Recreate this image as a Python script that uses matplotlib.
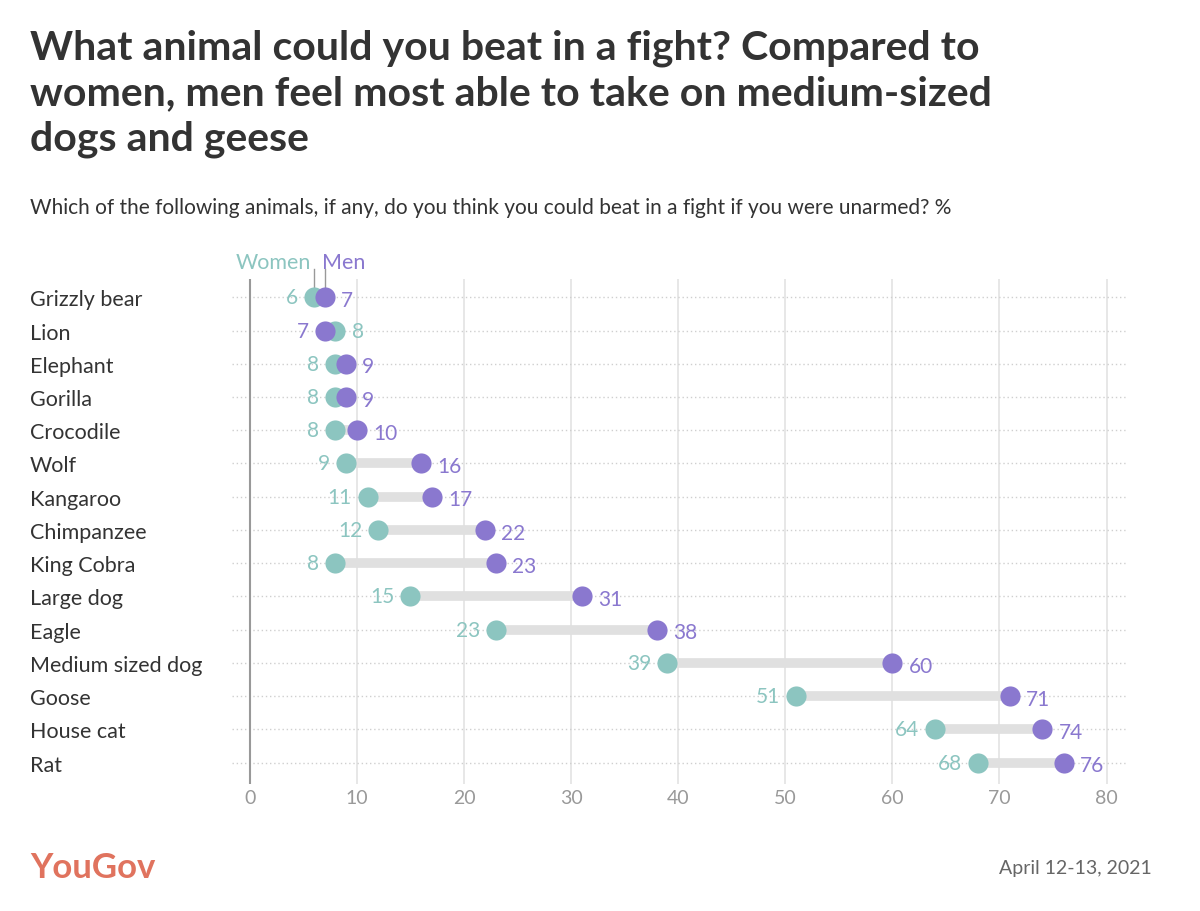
import matplotlib
matplotlib.use("Agg")
import matplotlib.pyplot as plt

animals = ["Grizzly bear","Lion","Elephant","Gorilla","Crocodile","Wolf","Kangaroo","Chimpanzee",
           "King Cobra","Large dog","Eagle","Medium sized dog","Goose","House cat","Rat"]
women = [6,8,8,8,8,9,11,12,8,15,23,39,51,64,68]
men = [7,7,9,9,10,16,17,22,23,31,38,60,71,74,76]
xticks = [0,10,20,30,40,50,60,70,80]

TEAL = "#8cc5c0"
PURPLE = "#8a78cf"
FONT = "Lato"

fig = plt.figure(figsize=(12, 9.12), dpi=100)
ax = fig.add_axes([0.193, 0.139, 0.747, 0.554])
ax.set_xlim(-1.7, 82)
ax.set_ylim(14.65, -0.55)

for x in xticks[1:]:
    ax.axvline(x, color="#e3e3e3", lw=1.2, zorder=0)
ax.axvline(0, color="#999999", lw=1.5, zorder=1)
for i, name in enumerate(animals):
    ax.plot([-1.7, 82], [i, i], color="#cfcfcf", lw=1, ls=(0, (1, 2)), zorder=0)
    w, m = women[i], men[i]
    ax.plot([w, m], [i, i], color="#e0e0e0", lw=7, solid_capstyle="butt", zorder=2)
    ax.plot(w, i, "o", ms=14.5, color=TEAL, mec="none", zorder=3)
    ax.plot(m, i, "o", ms=14.5, color=PURPLE, mec="none", zorder=4)
    if w <= m:
        ax.text(w - 1.5, i, str(w), color=TEAL, ha="right", va="center", fontsize=15, family=FONT)
        ax.text(m + 1.5, i + 0.08, str(m), color=PURPLE, ha="left", va="center", fontsize=15, family=FONT)
    else:
        ax.text(m - 1.5, i, str(m), color=PURPLE, ha="right", va="center", fontsize=15, family=FONT)
        ax.text(w + 1.5, i, str(w), color=TEAL, ha="left", va="center", fontsize=15, family=FONT)

ax.set_yticks(range(len(animals)))
ax.set_yticklabels(animals, fontsize=15.5, family=FONT, color="#333333")
ax.set_xticks(xticks)
ax.set_xticklabels([str(x) for x in xticks], fontsize=14, family=FONT, color="#999999")
ax.tick_params(length=0)
ax.tick_params(axis="y", pad=0)
for lab in ax.get_yticklabels():
    lab.set_horizontalalignment("left")
    lab.set_x(-0.193 / 0.747 + 30 / (0.747 * 1200))
for s in ax.spines.values():
    s.set_visible(False)

# legend labels
ax.text(women[0] - 0.3, -1.05, "Women", color=TEAL, ha="right", va="center", fontsize=15.5, family=FONT)
ax.text(men[0] - 0.3, -1.05, "Men", color=PURPLE, ha="left", va="center", fontsize=15.5, family=FONT)
ax.plot([women[0], women[0]], [-0.85, -0.3], color="#999999", lw=1, clip_on=False)
ax.plot([men[0], men[0]], [-0.85, -0.3], color="#999999", lw=1, clip_on=False)

fig.text(0.025, 0.968, "What animal could you beat in a fight? Compared to\nwomen, men feel most able to take on medium-sized\ndogs and geese",
         fontsize=29.5, fontweight="bold", family=FONT, color="#333333", va="top", linespacing=1.28)
fig.text(0.025, 0.772, "Which of the following animals, if any, do you think you could beat in a fight if you were unarmed? %",
         fontsize=15, family=FONT, color="#333333", va="center")
fig.text(0.025, 0.048, "YouGov", fontsize=25, fontweight="bold", family=FONT, color="#e0735e", va="center")
fig.text(0.96, 0.048, "April 12-13, 2021", fontsize=14, family=FONT, color="#666666", va="center", ha="right")

fig.savefig("out.png", dpi=100, facecolor="white")
